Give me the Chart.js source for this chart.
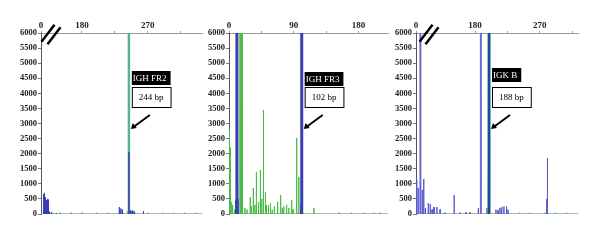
<!DOCTYPE html>
<html>
<head>
<meta charset="utf-8">
<script src="https://cdn.jsdelivr.net/npm/chart.js@4.4.1/dist/chart.umd.min.js"></script>
<style>
  body { margin: 0; background: #fff; }
  #wrap { position: relative; width: 600px; height: 240px; }
  #wrap canvas { position: absolute; top: 0; }
</style>
</head>
<body>
<div id="wrap">
  <canvas id="fr2" style="left:0px;width:205px;height:240px" width="205" height="240"></canvas>
  <canvas id="fr3" style="left:190px;width:200px;height:240px" width="200" height="240"></canvas>
  <canvas id="igk" style="left:378px;width:202px;height:240px" width="202" height="240"></canvas>
</div>
<script>
// fragment size (bp) on the top axis, signal (RFU) on the left one
const OFF = 6500; // off-scale peaks, cut by the 6000 frame

// IGH FR2 - the axis is cut after 0, first tick is relabelled "0"
const fr2Ticks = [124, 180, 225, 270, 315];
const fr2TickLabels = ['0', '180', '', '270', ''];
const fr2BlueBp = [127.4, 128.7, 130, 131.5, 132.8, 134, 135.5, 138, 145, 231, 233, 235, 244, 246, 248.5, 251, 264];
const fr2BlueRfu = [660, 700, 560, 460, 500, 480, 80, 60, 30, 230, 180, 150, 2050, 120, 110, 100, 90];
const fr2GreenBp = [140, 150, 165, 180, 200, 215, 236, 242, 253, 270, 290, 305, 320, 335];
const fr2GreenRfu = [40, 40, 40, 50, 40, 40, 50, 100, 40, 40, 40, 40, 40, 40];
const fr2PeakBp = [244];
const fr2PeakRfu = [OFF];

// IGH FR3
const fr3Ticks = [0, 45, 90, 135, 180];
const fr3TickLabels = ['0', '', '90', '', '180'];
const fr3BlueBp = [9, 12.5, 99.5];
const fr3BlueRfu = [450, 500, 300];
const fr3BluePeakBp = [11, 101];
const fr3BluePeakRfu = [OFF, OFF];
const fr3GreenPeakBp = [15.5, 18];
const fr3GreenPeakRfu = [OFF, OFF];
const fr3GreenBp = [0, 1.5, 3, 5, 8, 22, 25, 29.5, 31, 33.7, 36, 38, 41, 43.6, 45.5, 47.8, 50.6, 52, 54.8, 57.6, 60, 63, 67.5, 71.7, 74, 76, 80, 83, 87, 89, 94, 97, 118, 153, 170, 188, 201, 210];
const fr3GreenRfu = [2800, 2200, 400, 300, 150, 200, 150, 560, 250, 860, 300, 1390, 400, 1460, 500, 3450, 730, 300, 300, 360, 150, 250, 400, 630, 200, 250, 300, 200, 460, 150, 2520, 1230, 200, 40, 40, 40, 40, 40];

// IGK B - the axis is cut after 0 as well
const igkTicks = [98, 180, 225, 270, 315];
const igkTickLabels = ['0', '180', '', '270', ''];
const igkBlueBp = [99, 101, 106.6, 108.7, 111, 115, 117.7, 120.4, 123, 127, 131.5, 138, 151, 159, 167.5, 173, 184.5, 196.6, 209, 212, 214.6, 217, 220, 223.6, 225.7, 279.5, 280.5];
const igkBlueRfu = [1130, 860, 800, 1160, 200, 360, 330, 150, 230, 230, 150, 50, 630, 50, 60, 50, 200, 200, 150, 130, 200, 230, 250, 250, 150, 500, 1850];
const igkBluePeakBp = [104, 188];
const igkBluePeakRfu = [OFF, OFF];
const igkPeakBp = [199.4];
const igkPeakRfu = [OFF];
const igkGreenBp = [242, 256, 277, 291, 307];
const igkGreenRfu = [40, 40, 40, 40, 40];

const BLUE = '#3c3cb4';
const GREEN = '#4cbb48';

function spikes(bp, rfu) {
    const pts = [];
    bp.forEach((b, i) => {
        pts.push({ x: b - 0.2, y: 0 }, { x: b, y: rfu[i] }, { x: b + 0.2, y: 0 }, { x: b + 0.2, y: null });
    });
    return pts;
}

function trace(bp, rfu, color, width) {
    return {
        data: spikes(bp, rfu),
        borderColor: color,
        borderWidth: width,
        borderJoinStyle: 'bevel',
        pointRadius: 0,
        spanGaps: false,
        tension: 0,
        clip: 0
    };
}

function makePanel(id, p) {
    const min = p.ticks[0], max = p.max;
    const datasets = p.traces.concat([{
        data: [{ x: min, y: 0 }, { x: max, y: 0 }],
        borderColor: '#8aa88a',
        borderWidth: 1.5,
        pointRadius: 0,
        clip: 0
    }]);

    const tags = {
        id: 'tags',
        afterDraw(chart) {
            const ctx = chart.ctx, area = chart.chartArea;
            const px = chart.scales.x.getPixelForValue(p.peak);
            ctx.save();
            ctx.font = '9px "Liberation Serif"';
            ctx.textBaseline = 'middle';
            // name of the target
            const nx = px + 3, ny = p.tagTop;
            const nw = ctx.measureText(p.name).width + 5;
            ctx.fillStyle = '#000';
            ctx.fillRect(nx, ny, nw, 14);
            ctx.fillStyle = '#fff';
            ctx.fillText(p.name, nx + 1, ny + 7.5);
            // size box
            const sy = 87, sw = ctx.measureText(p.size).width + 14;
            ctx.fillStyle = '#fff';
            ctx.fillRect(nx, sy, sw, 20);
            ctx.strokeStyle = '#000';
            ctx.lineWidth = 1;
            ctx.strokeRect(nx + 0.5, sy + 0.5, sw, 20);
            ctx.fillStyle = '#000';
            ctx.fillText(p.size, nx + 7, sy + 11);
            // arrow to the peak
            const tx = px + 2, ty = 129;
            ctx.lineWidth = 2;
            ctx.beginPath();
            ctx.moveTo(px + 21, 115);
            ctx.lineTo(tx + 3, ty - 2.3);
            ctx.stroke();
            ctx.beginPath();
            ctx.moveTo(tx, ty);
            ctx.lineTo(tx + 2, ty - 6);
            ctx.lineTo(tx + 6, ty - 1);
            ctx.closePath();
            ctx.fill();
            // break marks on the cut axis
            if (p.broken) {
                ctx.lineWidth = 2.5;
                const cx = area.left + p.breakAt;
                [-3, 3].forEach(d => {
                    ctx.beginPath();
                    ctx.moveTo(cx + d - 6.5, area.top + 10 + d * 0.4);
                    ctx.lineTo(cx + d + 6.5, area.top - 7 + d * 0.4);
                    ctx.stroke();
                });
            }
            ctx.restore();
        }
    };

    return new Chart(document.getElementById(id), {
        type: 'line',
        data: { datasets: datasets },
        options: {
            responsive: false,
            animation: false,
            layout: { padding: { left: 0, right: p.padRight, top: 0, bottom: 26 } },
            plugins: { legend: { display: false }, tooltip: { enabled: false } },
            scales: {
                x: {
                    type: 'linear',
                    position: 'top',
                    min: min,
                    max: max,
                    afterBuildTicks: s => { s.ticks = p.ticks.map(v => ({ value: v })); },
                    afterFit: s => { s.height = 33; },
                    ticks: {
                        autoSkip: false,
                        maxRotation: 0,
                        padding: 0,
                        color: '#222',
                        font: { family: 'Liberation Serif', size: 9, weight: 'bold' },
                        callback: (v, i) => p.labels[i]
                    },
                    grid: { drawOnChartArea: false, tickLength: 2, color: '#999' },
                    border: { color: '#999' }
                },
                y: {
                    min: 0,
                    max: 6000,
                    afterFit: s => { s.width = p.yWidth; },
                    ticks: {
                        stepSize: 500,
                        padding: 1,
                        color: '#222',
                        font: { family: 'Liberation Serif', size: 8.5, weight: 'bold' },
                        callback: v => String(v)
                    },
                    grid: { drawOnChartArea: false, tickLength: 3, color: '#777' },
                    border: { color: '#555' }
                }
            }
        },
        plugins: [tags]
    });
}

makePanel('fr2', {
    ticks: fr2Ticks, labels: fr2TickLabels, max: 344, yWidth: 41, padRight: 3,
    peak: 244, name: 'IGH FR2', size: '244 bp', tagTop: 71, broken: true, breakAt: 10,
    traces: [
        trace(fr2BlueBp, fr2BlueRfu, BLUE, 1),
        trace(fr2PeakBp, fr2PeakRfu, '#52b58c', 2.5),
        trace(fr2GreenBp, fr2GreenRfu, GREEN, 1)
    ]
});

makePanel('fr3', {
    ticks: fr3Ticks, labels: fr3TickLabels, max: 221, yWidth: 39, padRight: 2,
    peak: 101, name: 'IGH FR3', size: '102 bp', tagTop: 72, broken: false,
    traces: [
        trace(fr3BluePeakBp, fr3BluePeakRfu, BLUE, 3),
        trace(fr3BlueBp, fr3BlueRfu, BLUE, 1),
        trace(fr3GreenPeakBp, fr3GreenPeakRfu, GREEN, 2),
        trace(fr3GreenBp, fr3GreenRfu, GREEN, 1)
    ]
});

makePanel('igk', {
    ticks: igkTicks, labels: igkTickLabels, max: 323, yWidth: 38, padRight: 2,
    peak: 199.4, name: 'IGK B', size: '188 bp', tagTop: 68, broken: true, breakAt: 13,
    traces: [
        trace(igkPeakBp, igkPeakRfu, '#2a3f9a', 1),
        trace(igkPeakBp, igkPeakRfu, '#2a9a7a', 3),
        trace(igkBluePeakBp, igkBluePeakRfu, '#6a6ad2', 2),
        trace(igkBlueBp, igkBlueRfu, '#5a5acc', 1),
        trace(igkGreenBp, igkGreenRfu, GREEN, 1)
    ]
});
</script>
</body>
</html>
